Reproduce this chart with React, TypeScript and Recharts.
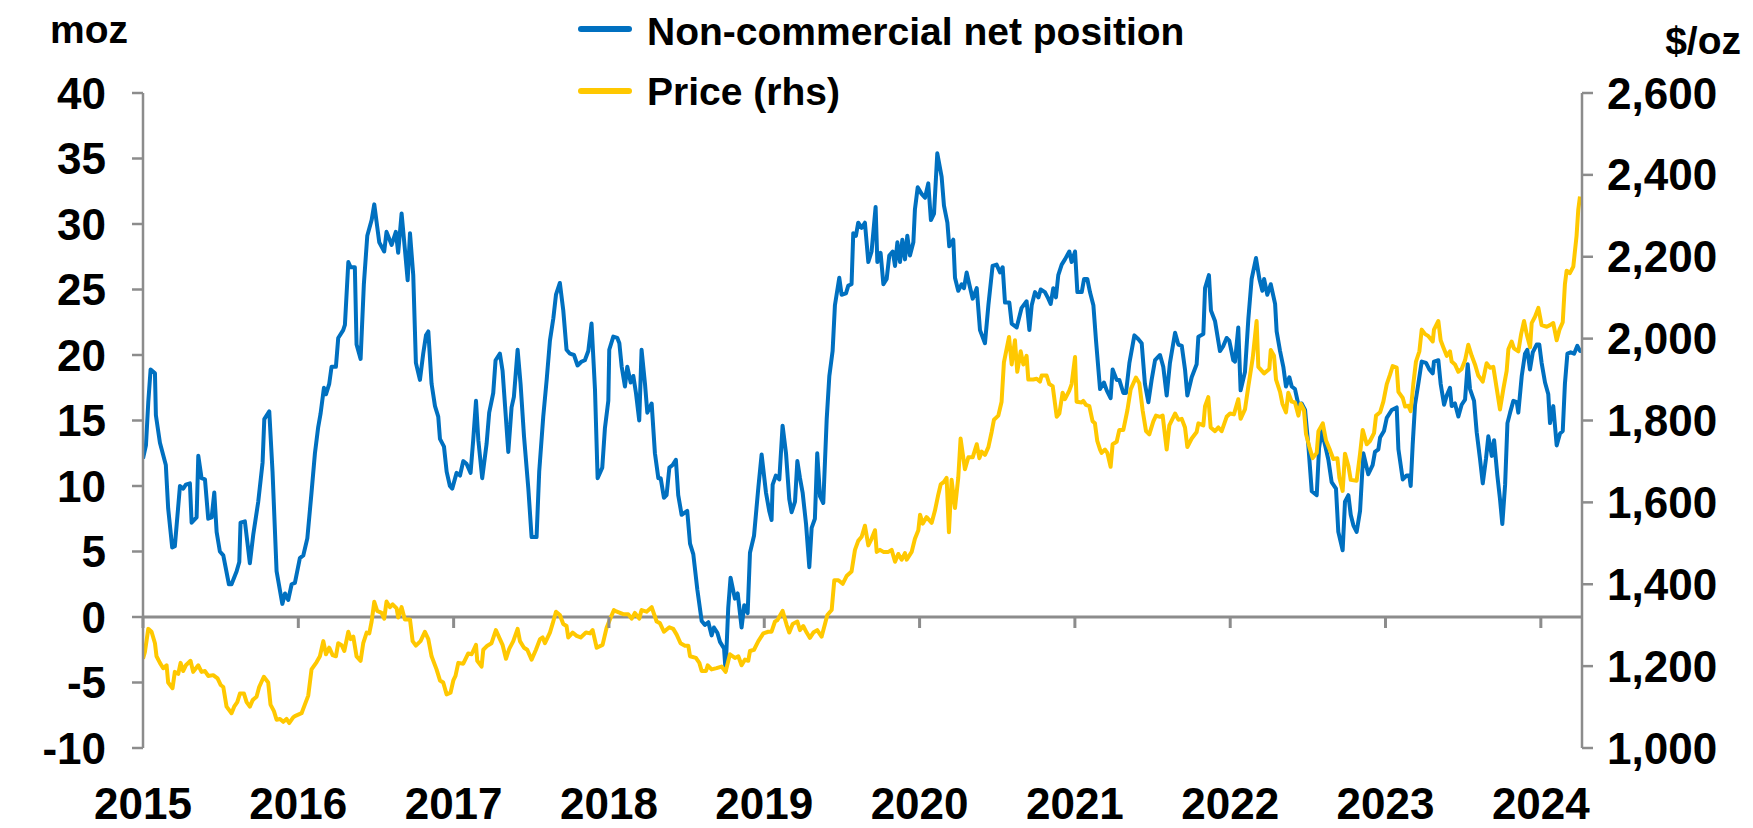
import React from 'react';
import { LineChart, Line, XAxis, YAxis, ReferenceLine } from 'recharts';

// Non-commercial net position (moz), weekly-ish readings
const netDates = [
  2015.0, 2015.019, 2015.034, 2015.049, 2015.077, 2015.083, 2015.109, 2015.147, 2015.162, 2015.188,
  2015.205, 2015.238, 2015.259, 2015.276, 2015.302, 2015.313, 2015.345, 2015.356, 2015.377, 2015.399,
  2015.42, 2015.442, 2015.459, 2015.474, 2015.495, 2015.517, 2015.553, 2015.57, 2015.603, 2015.62,
  2015.628, 2015.656, 2015.688, 2015.71, 2015.742, 2015.77, 2015.781, 2015.813, 2015.834, 2015.86,
  2015.897, 2015.914, 2015.935, 2015.957, 2015.978, 2016.01, 2016.032, 2016.058, 2016.085, 2016.107,
  2016.128, 2016.143, 2016.165, 2016.178, 2016.199, 2016.214, 2016.242, 2016.257, 2016.289, 2016.3,
  2016.322, 2016.337, 2016.364, 2016.375, 2016.401, 2016.422, 2016.444, 2016.472, 2016.489, 2016.521,
  2016.553, 2016.568, 2016.601, 2016.628, 2016.643, 2016.665, 2016.686, 2016.704, 2016.719, 2016.74,
  2016.757, 2016.783, 2016.804, 2016.822, 2016.837, 2016.858, 2016.88, 2016.901, 2016.912, 2016.938,
  2016.955, 2016.976, 2016.991, 2017.019, 2017.041, 2017.062, 2017.083, 2017.109, 2017.126, 2017.144,
  2017.159, 2017.184, 2017.212, 2017.229, 2017.255, 2017.27, 2017.298, 2017.315, 2017.352, 2017.373,
  2017.388, 2017.412, 2017.431, 2017.453, 2017.481, 2017.502, 2017.534, 2017.551, 2017.577, 2017.599,
  2017.62, 2017.642, 2017.659, 2017.684, 2017.706, 2017.727, 2017.749, 2017.775, 2017.798, 2017.824,
  2017.845, 2017.867, 2017.888, 2017.91, 2017.927, 2017.957, 2017.974, 2017.996, 2018.002, 2018.028,
  2018.054, 2018.067, 2018.082, 2018.103, 2018.118, 2018.14, 2018.157, 2018.174, 2018.195, 2018.21,
  2018.232, 2018.247, 2018.275, 2018.296, 2018.318, 2018.333, 2018.354, 2018.371, 2018.389, 2018.41,
  2018.431, 2018.446, 2018.468, 2018.504, 2018.522, 2018.543, 2018.569, 2018.597, 2018.618, 2018.64,
  2018.661, 2018.676, 2018.698, 2018.715, 2018.741, 2018.751, 2018.768, 2018.783, 2018.811, 2018.829,
  2018.854, 2018.871, 2018.893, 2018.908, 2018.934, 2018.962, 2018.983, 2019.011, 2019.032, 2019.047,
  2019.054, 2019.075, 2019.097, 2019.118, 2019.14, 2019.161, 2019.176, 2019.198, 2019.213, 2019.23,
  2019.247, 2019.269, 2019.29, 2019.305, 2019.326, 2019.341, 2019.359, 2019.38, 2019.402, 2019.419,
  2019.44, 2019.455, 2019.483, 2019.498, 2019.526, 2019.541, 2019.562, 2019.573, 2019.59, 2019.605,
  2019.627, 2019.648, 2019.67, 2019.691, 2019.717, 2019.728, 2019.749, 2019.767, 2019.788, 2019.805,
  2019.827, 2019.842, 2019.857, 2019.874, 2019.889, 2019.906, 2019.921, 2019.938, 2019.96, 2019.97,
  2019.988, 2020.013, 2020.035, 2020.056, 2020.073, 2020.093, 2020.114, 2020.142, 2020.157, 2020.179,
  2020.191, 2020.217, 2020.228, 2020.249, 2020.271, 2020.286, 2020.303, 2020.32, 2020.342, 2020.368,
  2020.389, 2020.421, 2020.443, 2020.47, 2020.496, 2020.518, 2020.535, 2020.55, 2020.578, 2020.593,
  2020.625, 2020.657, 2020.689, 2020.707, 2020.722, 2020.743, 2020.765, 2020.78, 2020.807, 2020.829,
  2020.844, 2020.861, 2020.878, 2020.893, 2020.915, 2020.936, 2020.964, 2020.979, 2021.001, 2021.016,
  2021.044, 2021.059, 2021.08, 2021.097, 2021.119, 2021.136, 2021.162, 2021.187, 2021.205, 2021.23,
  2021.243, 2021.269, 2021.286, 2021.312, 2021.329, 2021.351, 2021.383, 2021.409, 2021.43, 2021.451,
  2021.473, 2021.494, 2021.516, 2021.548, 2021.569, 2021.591, 2021.612, 2021.645, 2021.666, 2021.688,
  2021.709, 2021.724, 2021.752, 2021.784, 2021.795, 2021.827, 2021.838, 2021.863, 2021.876, 2021.902,
  2021.934, 2021.956, 2021.977, 2021.994, 2022.02, 2022.031, 2022.052, 2022.067, 2022.095, 2022.117,
  2022.138, 2022.166, 2022.188, 2022.207, 2022.218, 2022.239, 2022.261, 2022.289, 2022.299, 2022.321,
  2022.342, 2022.359, 2022.381, 2022.396, 2022.417, 2022.439, 2022.46, 2022.482, 2022.503, 2022.525,
  2022.557, 2022.572, 2022.589, 2022.611, 2022.632, 2022.653, 2022.681, 2022.696, 2022.724, 2022.739,
  2022.761, 2022.776, 2022.793, 2022.814, 2022.836, 2022.857, 2022.889, 2022.917, 2022.932, 2022.954,
  2022.965, 2022.99, 2023.008, 2023.04, 2023.072, 2023.083, 2023.111, 2023.136, 2023.153, 2023.162,
  2023.175, 2023.19, 2023.211, 2023.233, 2023.261, 2023.282, 2023.304, 2023.312, 2023.34, 2023.355,
  2023.377, 2023.394, 2023.415, 2023.426, 2023.447, 2023.469, 2023.49, 2023.512, 2023.529, 2023.544,
  2023.57, 2023.587, 2023.608, 2023.626, 2023.647, 2023.662, 2023.684, 2023.699, 2023.72, 2023.737,
  2023.752, 2023.77, 2023.785, 2023.802, 2023.823, 2023.845, 2023.855, 2023.877, 2023.898, 2023.913,
  2023.93, 2023.948, 2023.973, 2023.99, 2024.005, 2024.027, 2024.048, 2024.059, 2024.08, 2024.102,
  2024.123, 2024.141, 2024.155, 2024.171, 2024.192, 2024.214, 2024.235, 2024.253, 2024.262,
];
const netValues = [
  12.1, 13.1, 16.4, 18.9, 18.6, 15.4, 13.3, 11.6, 8.3, 5.3,
  5.4, 10.0, 9.8, 10.1, 10.2, 7.2, 7.6, 12.3, 10.6, 10.5,
  7.5, 7.6, 9.5, 6.5, 5.0, 4.7, 2.5, 2.5, 3.5, 4.2,
  7.2, 7.3, 4.1, 6.3, 8.8, 11.8, 15.1, 15.7, 11.1, 3.5,
  1.0, 1.8, 1.3, 2.5, 2.6, 4.5, 4.7, 6.0, 9.5, 12.5,
  14.5, 15.5, 17.5, 17.0, 17.8, 19.1, 19.1, 21.3, 21.9, 22.3,
  27.1, 26.7, 26.7, 20.8, 19.7, 25.4, 29.1, 30.3, 31.5, 28.6,
  27.9, 29.4, 28.4, 29.4, 27.8, 30.8, 28.1, 25.7, 29.3, 26.1,
  19.4, 18.1, 20.1, 21.5, 21.8, 17.8, 16.1, 15.3, 13.6, 13.0,
  11.1, 10.0, 9.8, 11.0, 10.8, 11.9, 11.7, 11.0, 13.5, 16.5,
  13.5, 10.6, 13.2, 15.6, 17.1, 19.6, 20.1, 18.8, 12.6, 16.0,
  16.8, 20.4, 17.8, 13.8, 9.8, 6.1, 6.1, 11.1, 15.3, 18.1,
  21.1, 22.8, 24.6, 25.5, 23.4, 20.4, 20.1, 20.0, 19.2, 19.5,
  19.6, 20.3, 22.4, 17.4, 10.6, 11.4, 14.4, 16.5, 20.4, 21.4,
  21.3, 20.9, 19.1, 17.6, 19.1, 17.9, 18.4, 17.1, 15.0, 20.4,
  17.8, 15.6, 16.3, 12.5, 10.6, 10.6, 9.1, 9.3, 11.4, 11.6,
  12.0, 9.3, 7.8, 8.1, 5.6, 4.8, 2.1, -0.3, -0.6, -0.4,
  -1.4, -0.8, -1.2, -1.9, -2.4, -4.1, 0.7, 3.0, 1.4, 1.8,
  -0.8, 0.9, 0.3, 4.9, 6.2, 9.9, 12.4, 9.5, 8.1, 7.4,
  10.1, 10.8, 10.5, 14.6, 12.5, 9.0, 8.0, 8.8, 11.9, 10.6,
  9.5, 7.1, 3.8, 6.8, 7.5, 12.5, 9.2, 8.7, 15.1, 18.4,
  20.3, 23.8, 25.9, 24.6, 24.7, 25.3, 25.4, 29.3, 29.1, 30.1,
  29.7, 30.1, 27.1, 27.9, 31.3, 27.1, 27.8, 25.4, 25.8, 27.6,
  27.9, 26.8, 28.6, 27.1, 28.8, 27.3, 29.1, 27.6, 28.6, 31.1,
  32.8, 32.3, 32.0, 33.1, 30.3, 30.8, 35.4, 33.6, 31.4, 30.1,
  28.3, 28.8, 25.9, 24.9, 25.4, 25.1, 26.3, 25.4, 24.3, 25.1,
  21.9, 20.9, 23.8, 26.8, 26.9, 26.3, 26.7, 24.0, 24.0, 22.4,
  22.1, 23.6, 24.1, 21.9, 23.8, 24.8, 24.4, 25.0, 24.8, 24.3,
  23.9, 25.1, 24.4, 26.1, 26.9, 27.3, 27.9, 27.1, 27.9, 24.8,
  24.8, 25.8, 25.8, 24.8, 23.8, 21.1, 17.4, 17.9, 17.3, 16.7,
  18.9, 18.1, 18.1, 17.1, 17.1, 19.4, 21.5, 21.2, 20.9, 17.8,
  16.4, 18.1, 19.6, 20.0, 19.1, 16.9, 19.4, 21.7, 20.8, 20.7,
  18.9, 16.9, 18.3, 19.3, 21.4, 21.6, 25.1, 26.1, 23.4, 22.6,
  20.3, 20.7, 21.3, 21.1, 19.6, 19.5, 22.1, 17.3, 18.7, 22.8,
  25.8, 27.4, 25.8, 24.9, 25.8, 24.6, 25.4, 23.9, 21.8, 20.3,
  19.1, 17.6, 18.3, 17.6, 17.4, 16.2, 16.3, 15.8, 13.1, 9.6,
  9.3, 12.9, 14.2, 13.1, 12.0, 10.3, 9.8, 6.5, 5.1, 8.8,
  9.3, 7.8, 7.0, 6.5, 8.1, 12.5, 10.9, 11.6, 12.6, 12.8,
  13.7, 14.2, 15.2, 15.8, 16.0, 12.8, 10.5, 10.8, 10.8, 10.0,
  13.2, 16.2, 17.8, 19.5, 19.4, 18.9, 18.6, 19.5, 19.6, 17.8,
  16.2, 16.9, 17.5, 16.1, 16.3, 15.3, 16.2, 16.6, 19.3, 17.4,
  16.5, 14.1, 12.1, 10.2, 12.1, 13.8, 12.3, 13.5, 10.8, 9.0,
  7.1, 10.1, 14.8, 15.6, 16.5, 16.4, 15.6, 18.4, 20.1, 20.4,
  18.9, 20.2, 20.8, 20.8, 19.4, 17.9, 17.0, 14.8, 16.1, 13.1,
  14.0, 14.2, 17.8, 20.1, 20.2, 20.1, 20.7, 20.3, 20.3,
];

// Silver price ($/oz, right-hand scale)
const priceDates = [
  2015.0, 2015.012, 2015.034, 2015.055, 2015.077, 2015.087, 2015.109, 2015.13, 2015.152, 2015.162,
  2015.19, 2015.205, 2015.227, 2015.242, 2015.259, 2015.276, 2015.306, 2015.323, 2015.356, 2015.377,
  2015.399, 2015.42, 2015.452, 2015.48, 2015.5, 2015.517, 2015.538, 2015.57, 2015.587, 2015.607,
  2015.624, 2015.65, 2015.667, 2015.688, 2015.706, 2015.731, 2015.748, 2015.778, 2015.806, 2015.821,
  2015.843, 2015.86, 2015.882, 2015.903, 2015.924, 2015.941, 2015.967, 2015.978, 2016.021, 2016.042,
  2016.064, 2016.085, 2016.118, 2016.139, 2016.161, 2016.178, 2016.199, 2016.221, 2016.242, 2016.257,
  2016.279, 2016.296, 2016.322, 2016.337, 2016.354, 2016.375, 2016.401, 2016.418, 2016.44, 2016.457,
  2016.472, 2016.489, 2016.508, 2016.536, 2016.553, 2016.568, 2016.59, 2016.607, 2016.633, 2016.643,
  2016.665, 2016.686, 2016.719, 2016.736, 2016.757, 2016.787, 2016.815, 2016.837, 2016.858, 2016.89,
  2016.912, 2016.933, 2016.955, 2016.98, 2016.998, 2017.012, 2017.03, 2017.062, 2017.094, 2017.116,
  2017.144, 2017.152, 2017.18, 2017.191, 2017.217, 2017.244, 2017.272, 2017.298, 2017.315, 2017.337,
  2017.358, 2017.384, 2017.412, 2017.427, 2017.453, 2017.474, 2017.502, 2017.53, 2017.556, 2017.573,
  2017.588, 2017.62, 2017.637, 2017.659, 2017.684, 2017.706, 2017.727, 2017.738, 2017.766, 2017.792,
  2017.818, 2017.852, 2017.878, 2017.895, 2017.921, 2017.959, 2017.985, 2018.006, 2018.032, 2018.039,
  2018.092, 2018.124, 2018.146, 2018.167, 2018.195, 2018.21, 2018.242, 2018.275, 2018.307, 2018.328,
  2018.354, 2018.389, 2018.414, 2018.436, 2018.461, 2018.489, 2018.511, 2018.522, 2018.56, 2018.582,
  2018.597, 2018.625, 2018.636, 2018.661, 2018.693, 2018.725, 2018.751, 2018.779, 2018.811, 2018.833,
  2018.854, 2018.876, 2018.897, 2018.908, 2018.934, 2018.962, 2018.994, 2019.026, 2019.047, 2019.069,
  2019.084, 2019.118, 2019.144, 2019.161, 2019.183, 2019.213, 2019.23, 2019.251, 2019.273, 2019.294,
  2019.316, 2019.341, 2019.369, 2019.391, 2019.406, 2019.434, 2019.451, 2019.477, 2019.505, 2019.53,
  2019.562, 2019.584, 2019.605, 2019.627, 2019.648, 2019.67, 2019.691, 2019.713, 2019.724, 2019.745,
  2019.767, 2019.799, 2019.82, 2019.842, 2019.863, 2019.885, 2019.906, 2019.917, 2019.949, 2019.97,
  2019.992, 2020.003, 2020.02, 2020.045, 2020.078, 2020.099, 2020.121, 2020.136, 2020.157, 2020.174,
  2020.189, 2020.206, 2020.228, 2020.249, 2020.264, 2020.292, 2020.314, 2020.342, 2020.368, 2020.385,
  2020.4, 2020.421, 2020.443, 2020.464, 2020.479, 2020.507, 2020.528, 2020.543, 2020.576, 2020.593,
  2020.614, 2020.629, 2020.651, 2020.668, 2020.689, 2020.7, 2020.732, 2020.754, 2020.775, 2020.786,
  2020.818, 2020.835, 2020.857, 2020.883, 2020.9, 2020.921, 2020.936, 2020.964, 2020.979, 2021.001,
  2021.011, 2021.044, 2021.054, 2021.071, 2021.093, 2021.114, 2021.129, 2021.144, 2021.162, 2021.172,
  2021.194, 2021.209, 2021.23, 2021.243, 2021.269, 2021.286, 2021.312, 2021.338, 2021.359, 2021.393,
  2021.415, 2021.436, 2021.458, 2021.479, 2021.505, 2021.522, 2021.548, 2021.565, 2021.591, 2021.608,
  2021.645, 2021.666, 2021.688, 2021.709, 2021.724, 2021.752, 2021.784, 2021.795, 2021.827, 2021.838,
  2021.859, 2021.874, 2021.902, 2021.924, 2021.945, 2021.977, 2021.999, 2022.024, 2022.052, 2022.067,
  2022.095, 2022.117, 2022.145, 2022.17, 2022.181, 2022.218, 2022.252, 2022.261, 2022.282, 2022.295,
  2022.321, 2022.336, 2022.359, 2022.374, 2022.396, 2022.417, 2022.439, 2022.454, 2022.475, 2022.488,
  2022.51, 2022.531, 2022.557, 2022.568, 2022.596, 2022.617, 2022.643, 2022.664, 2022.69, 2022.703,
  2022.724, 2022.739, 2022.761, 2022.776, 2022.814, 2022.836, 2022.853, 2022.879, 2022.9, 2022.926,
  2022.939, 2022.965, 2022.986, 2023.008, 2023.029, 2023.046, 2023.072, 2023.083, 2023.111, 2023.126,
  2023.147, 2023.162, 2023.179, 2023.196, 2023.218, 2023.233, 2023.255, 2023.276, 2023.304, 2023.312,
  2023.34, 2023.355, 2023.372, 2023.394, 2023.415, 2023.426, 2023.447, 2023.469, 2023.49, 2023.512,
  2023.533, 2023.555, 2023.576, 2023.597, 2023.626, 2023.651, 2023.673, 2023.694, 2023.716, 2023.737,
  2023.759, 2023.78, 2023.791, 2023.812, 2023.827, 2023.855, 2023.873, 2023.892, 2023.909, 2023.931,
  2023.941, 2023.963, 2023.984, 2024.005, 2024.038, 2024.059, 2024.08, 2024.102, 2024.12, 2024.141,
  2024.155, 2024.166, 2024.187, 2024.209, 2024.23, 2024.241, 2024.252,
];
const priceValues = [
  1218, 1234, 1291, 1284, 1256, 1224, 1208, 1195, 1202, 1160,
  1146, 1186, 1181, 1208, 1188, 1202, 1213, 1186, 1202, 1186,
  1188, 1176, 1178, 1170, 1154, 1149, 1101, 1085, 1101, 1112,
  1133, 1133, 1112, 1101, 1117, 1125, 1149, 1174, 1160, 1106,
  1090, 1069, 1071, 1064, 1071, 1061, 1075, 1078, 1085, 1106,
  1128, 1192, 1210, 1224, 1261, 1229, 1245, 1227, 1224, 1256,
  1251, 1237, 1284, 1266, 1272, 1224, 1213, 1256, 1282, 1280,
  1309, 1357, 1335, 1330, 1316, 1358, 1344, 1351, 1341, 1319,
  1344, 1314, 1314, 1261, 1250, 1261, 1284, 1266, 1224, 1192,
  1165, 1160, 1131, 1135, 1165, 1176, 1208, 1206, 1231, 1229,
  1252, 1213, 1199, 1240, 1250, 1256, 1288, 1266, 1252, 1218,
  1242, 1261, 1291, 1261, 1245, 1240, 1216, 1240, 1266, 1270,
  1256, 1282, 1303, 1333, 1325, 1303, 1298, 1270, 1282, 1274,
  1270, 1282, 1280, 1288, 1245, 1252, 1294, 1314, 1337, 1335,
  1327, 1327, 1316, 1330, 1316, 1337, 1333, 1344, 1309, 1305,
  1284, 1295, 1291, 1277, 1256, 1250, 1250, 1224, 1220, 1208,
  1188, 1188, 1202, 1192, 1195, 1199, 1186, 1229, 1220, 1224,
  1202, 1216, 1213, 1237, 1240, 1261, 1280, 1284, 1284, 1309,
  1312, 1335, 1301, 1282, 1303, 1309, 1288, 1298, 1282, 1269,
  1282, 1288, 1272, 1303, 1325, 1337, 1410, 1410, 1401, 1420,
  1431, 1484, 1506, 1516, 1543, 1495, 1511, 1532, 1479, 1484,
  1479, 1479, 1484, 1455, 1474, 1460, 1476, 1460, 1479, 1511,
  1532, 1570, 1548, 1564, 1550, 1580, 1620, 1644, 1650, 1660,
  1527, 1655, 1586, 1660, 1756, 1681, 1710, 1710, 1742, 1708,
  1724, 1716, 1735, 1772, 1802, 1812, 1846, 1942, 2004, 1937,
  1996, 1919, 1969, 1937, 1958, 1900, 1900, 1902, 1895, 1910,
  1910, 1889, 1884, 1809, 1817, 1868, 1852, 1873, 1889, 1955,
  1846, 1844, 1848, 1838, 1835, 1798, 1793, 1750, 1729, 1721,
  1729, 1721, 1687, 1742, 1748, 1777, 1777, 1825, 1876, 1905,
  1891, 1825, 1774, 1766, 1798, 1812, 1809, 1812, 1729, 1788,
  1817, 1802, 1804, 1783, 1735, 1756, 1772, 1793, 1788, 1835,
  1857, 1783, 1774, 1783, 1774, 1809, 1817, 1815, 1852, 1804,
  1827, 1884, 1953, 2043, 1931, 1915, 1926, 1972, 1958, 1900,
  1870, 1841, 1820, 1868, 1846, 1844, 1812, 1841, 1825, 1767,
  1735, 1708, 1721, 1774, 1793, 1751, 1727, 1706, 1708, 1660,
  1628, 1719, 1689, 1655, 1653, 1719, 1777, 1742, 1750, 1769,
  1812, 1820, 1846, 1889, 1912, 1933, 1929, 1870, 1855, 1834,
  1836, 1823, 1889, 1944, 1969, 2022, 2011, 2006, 1993, 2022,
  2043, 1996, 1979, 1958, 1969, 1944, 1937, 1919, 1926, 1947,
  1985, 1958, 1937, 1910, 1895, 1940, 1929, 1931, 1878, 1827,
  1878, 1921, 1974, 1993, 1976, 1969, 2011, 2043, 2011, 1979,
  2038, 2054, 2075, 2033, 2029, 2033, 2038, 1996, 2022, 2040,
  2133, 2166, 2160, 2176, 2251, 2315, 2347,
];

const years = [2015, 2016, 2017, 2018, 2019, 2020, 2021, 2022, 2023, 2024];
const leftTicks = [-10, -5, 0, 5, 10, 15, 20, 25, 30, 35, 40];
const rightTicks = [1000, 1200, 1400, 1600, 1800, 2000, 2200, 2400, 2600];

const netData = netDates.map((t, i) => ({ t, v: netValues[i] }));
const priceData = priceDates.map((t, i) => ({ t, p: priceValues[i] }));

const W = 1753;
const H = 828;
const PLOT_TOP = 93;
const PLOT_H = 655;
const ZERO_Y = PLOT_TOP + (40 / 50) * PLOT_H;

const BLUE = '#0070C0';
const GOLD = '#FFC800';
const GREY = '#8C8C8C';
const FONT = '"Liberation Sans", Arial, sans-serif';

const YearTick = (props: any) => {
  const { x, y, payload } = props;
  return (
    <g>
      <line x1={x} x2={x} y1={ZERO_Y} y2={ZERO_Y + 11} stroke={GREY} strokeWidth={3} />
      <text x={x} y={y + 69} textAnchor="middle" fill="#000" fontSize={44} fontWeight={700} fontFamily={FONT}>
        {payload.value}
      </text>
    </g>
  );
};

const tickStyle = { fill: '#000', fontSize: 44, fontWeight: 700, fontFamily: FONT };

const App: React.FC = () => {
  return (
    <div style={{ position: 'absolute', left: 0, top: 0, width: W, height: H, background: '#fff' }}>
      <LineChart width={W} height={H} margin={{ top: PLOT_TOP, right: 0, bottom: 0, left: 0 }}>
        <XAxis
          dataKey="t"
          type="number"
          domain={[2015, 2024.265]}
          ticks={years}
          allowDataOverflow
          axisLine={false}
          tickLine={false}
          tickSize={0}
          height={80}
          tick={<YearTick />}
        />
        <YAxis
          yAxisId="left"
          orientation="left"
          domain={[-10, 40]}
          ticks={leftTicks}
          width={143}
          axisLine={{ stroke: GREY, strokeWidth: 2.5 }}
          tickLine={{ stroke: GREY, strokeWidth: 2.5 }}
          tickSize={11}
          tickMargin={26}
          tick={tickStyle}
          interval={0}
        />
        <YAxis
          yAxisId="right"
          orientation="right"
          domain={[1000, 2600]}
          ticks={rightTicks}
          width={171}
          axisLine={{ stroke: GREY, strokeWidth: 2.5 }}
          tickLine={{ stroke: GREY, strokeWidth: 2.5 }}
          tickSize={11}
          tickMargin={14}
          tick={tickStyle}
          interval={0}
          tickFormatter={(v: number) => v.toLocaleString('en-US')}
        />
        <ReferenceLine yAxisId="left" y={0} stroke={GREY} strokeWidth={3} />
        <Line
          data={netData}
          dataKey="v"
          yAxisId="left"
          type="linear"
          stroke={BLUE}
          strokeWidth={4}
          strokeLinejoin="round"
          dot={false}
          isAnimationActive={false}
        />
        <Line
          data={priceData}
          dataKey="p"
          yAxisId="right"
          type="linear"
          stroke={GOLD}
          strokeWidth={4}
          strokeLinejoin="round"
          dot={false}
          isAnimationActive={false}
        />
      </LineChart>
      <svg width={W} height={H} style={{ position: 'absolute', left: 0, top: 0, pointerEvents: 'none' }}>
        <g fontFamily={FONT} fontWeight={700} fontSize={39} fill="#000">
          <text x={50} y={43}>moz</text>
          <text x={1741} y={54} textAnchor="end">$/oz</text>
          <line x1={581} x2={629} y1={29} y2={29} stroke={BLUE} strokeWidth={6} strokeLinecap="round" />
          <text x={647} y={45}>Non-commercial net position</text>
          <line x1={581} x2={629} y1={91} y2={91} stroke={GOLD} strokeWidth={6} strokeLinecap="round" />
          <text x={647} y={105}>Price (rhs)</text>
        </g>
      </svg>
    </div>
  );
};

export default App;
